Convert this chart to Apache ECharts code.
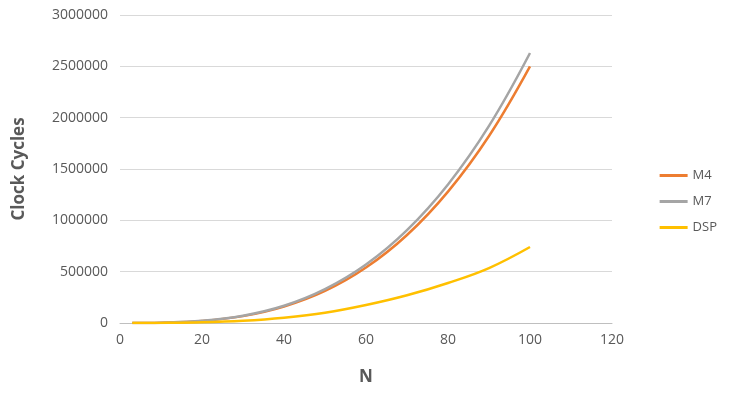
<!DOCTYPE html>
<html><head><meta charset="utf-8">
<script src="https://cdn.jsdelivr.net/npm/echarts@6/dist/echarts.min.js"></script>
<style>html,body{margin:0;padding:0;background:#fff}#c{width:750px;height:407px}</style>
</head><body><div id="c"></div>
<script>
const nValues = [3, 5, 10, 20, 30, 40, 50, 60, 70, 80, 90, 100];
const m4 = [70, 300, 2500, 20000, 67000, 160000, 312000, 540000, 857000, 1280000, 1822000, 2500000];
const m7 = [75, 330, 2650, 21000, 71000, 168000, 330000, 570000, 905000, 1350000, 1920000, 2630000];
const dsp = [20, 100, 800, 6500, 22000, 52000, 100000, 175000, 270000, 390000, 535000, 740000];
const names = ['M4', 'M7', 'DSP'];
const colors = ['#ED7D31', '#A5A5A5', '#FFC000'];
const chart = echarts.init(document.getElementById('c'));
const mk = (name, vals, i) => ({
  name, type: 'line', smooth: 0.4, showSymbol: false, symbol: 'none',
  data: nValues.map((n, k) => [n, vals[k]]),
  lineStyle: { color: colors[i], width: 2.5 }, itemStyle: { color: colors[i] }
});
chart.setOption({
  animation: false,
  textStyle: { fontFamily: 'Open Sans' },
  grid: { left: 120, right: 138, top: 15, bottom: 84 },
  legend: {
    orient: 'vertical', right: 28, top: 164, itemGap: 13, itemWidth: 28, itemHeight: 3,
    icon: 'rect', textStyle: { color: '#595959', fontSize: 13 },
    data: names
  },
  xAxis: {
    type: 'value', min: 0, max: 120, interval: 20,
    name: 'N', nameLocation: 'middle', nameGap: 46,
    nameTextStyle: { fontWeight: 'bold', fontSize: 17, color: '#595959' },
    axisLine: { lineStyle: { color: '#bfbfbf' } }, axisTick: { show: false },
    axisLabel: { color: '#595959', fontSize: 14, margin: 10 }, splitLine: { show: false }
  },
  yAxis: {
    type: 'value', min: 0, max: 3000000, interval: 500000,
    name: 'Clock Cycles', nameLocation: 'middle', nameGap: 92,
    nameTextStyle: { fontWeight: 'bold', fontSize: 17, color: '#595959' },
    axisLine: { show: false }, axisTick: { show: false },
    axisLabel: { color: '#595959', fontSize: 14, margin: 12, formatter: v => String(v) },
    splitLine: { lineStyle: { color: '#d9d9d9' } }
  },
  series: [mk('M4', m4, 0), mk('M7', m7, 1), mk('DSP', dsp, 2)]
});
</script></body></html>
